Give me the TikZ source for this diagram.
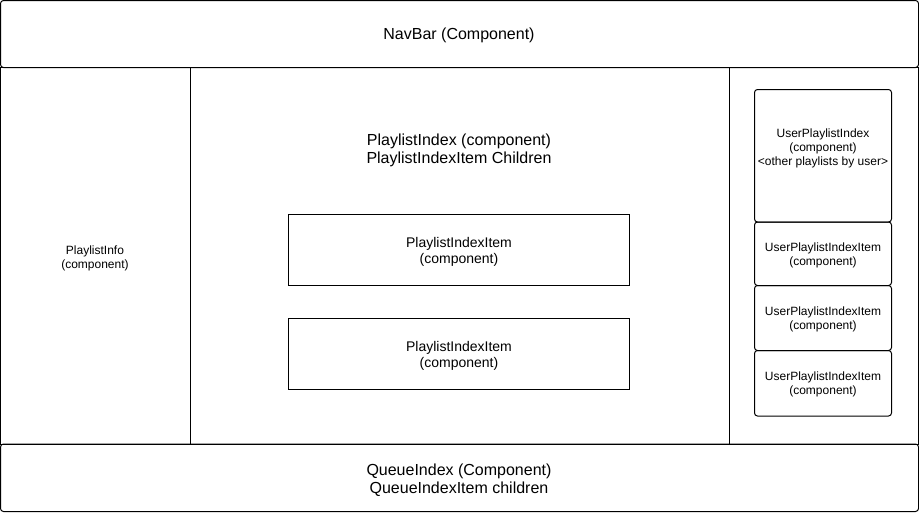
\documentclass[tikz,border=0pt]{standalone}
\usepackage{fontspec}
\setmainfont{Liberation Sans}
\begin{document}
\begin{tikzpicture}[x=1pt,y=-1pt,
  frame/.style={draw=black,line width=1pt},
  rbox/.style={draw=black,line width=1pt,rounded corners=3pt},
  big/.style={font=\fontsize{16}{18}\selectfont,align=center},
  mid/.style={font=\fontsize{14}{16}\selectfont,align=center},
  small/.style={font=\fontsize{12}{14}\selectfont,align=center}]
\useasboundingbox (0,0) rectangle (919,512);
% frames
\draw[rbox] (0.5,0.5) rectangle (918.5,67.5);
\draw[frame] (0.5,67.5) rectangle (190,444);
\draw[frame] (190,67.5) rectangle (729,444);
\draw[frame] (729,67.5) rectangle (918.5,444);
\draw[rbox] (0.5,444) rectangle (918.5,511.5);
% nodes
\node[big] (nav) at (459,35) {NavBar (Component)};
\node[small] (info) at (95,258) {PlaylistInfo\\(component)};
\node[big] (pidx) at (459,150) {PlaylistIndex (component)\\PlaylistIndexItem Children};
\draw[frame] (288.5,214.5) rectangle (629.5,285.5);
\node[mid] (item1) at (459,251.5) {PlaylistIndexItem\\(component)};
\draw[frame] (288.5,318.5) rectangle (629.5,389.5);
\node[mid] (item2) at (459,355.5) {PlaylistIndexItem\\(component)};
\node[big] (queue) at (459,480) {QueueIndex (Component)\\QueueIndexItem children};
% right column
\draw[rbox] (754.5,89.5) rectangle (891.5,222);
\node[small] (upi) at (823,148.5) {UserPlaylistIndex\\(component)\\<other playlists by user>};
\draw[rbox] (754.5,222) rectangle (891.5,285.5);
\node[small] (u1) at (823,255) {UserPlaylistIndexItem\\(component)};
\draw[rbox] (754.5,285.5) rectangle (891.5,350.5);
\node[small] (u2) at (823,319) {UserPlaylistIndexItem\\(component)};
\draw[rbox] (754.5,350.5) rectangle (891.5,416);
\node[small] (u3) at (823,384.5) {UserPlaylistIndexItem\\(component)};
\end{tikzpicture}
\end{document}
